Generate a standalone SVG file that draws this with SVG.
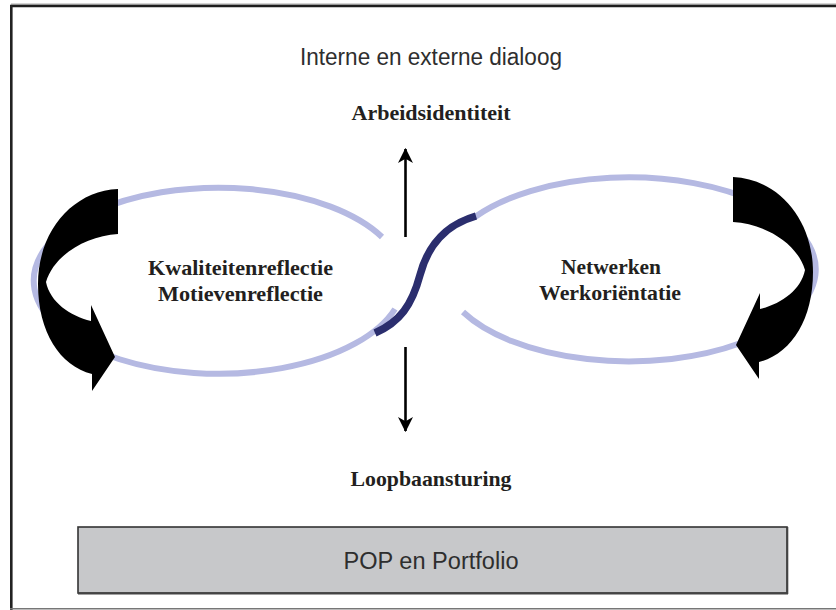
<svg xmlns="http://www.w3.org/2000/svg" xmlns:xlink="http://www.w3.org/1999/xlink" width="836" height="610" viewBox="0 0 836 610">
<style>
.reg{font-family:"Liberation Sans","Open Sans",sans-serif;font-size:23px;fill:#2e2e2e;text-anchor:middle}
.bold{font-family:"Liberation Serif","DejaVu Serif",serif;font-weight:bold;font-size:21px;fill:#231f20;text-anchor:middle}
.loop{fill:none;stroke:#b5b9e2;stroke-width:6}
.axis{fill:none;stroke:#000;stroke-width:2.6}
</style>
<defs>
<marker id="ah" viewBox="0 0 14 14" refX="13" refY="7" markerWidth="15" markerHeight="15" markerUnits="userSpaceOnUse" orient="auto">
<path d="M0,0 L14,7 L0,14 L4,7 Z" fill="#000"/>
</marker>
<path id="bigArrow" d="M118,189 L118,234 C86,236 54,255 46,282 C50,302 70,316 91,321 L91,305 L115,357 L92,391 L92,374 C60,366 38,332 38,284 C38,232 72,191 118,189 Z" fill="#000"/>
</defs>
<rect x="0" y="0" width="836" height="610" fill="#fff"/>
<g id="frame">
<line x1="11" y1="4.2" x2="836" y2="4.2" stroke="#aaa" stroke-width="1.2"/>
<line x1="10" y1="6" x2="836" y2="6" stroke="#1e1e1e" stroke-width="2.4"/>
<line x1="11.3" y1="5" x2="11.3" y2="610" stroke="#222" stroke-width="2.6"/>
<line x1="10" y1="608.8" x2="836" y2="608.8" stroke="#777" stroke-width="1.4"/>
</g>
<g id="title">
<text class="reg" x="431" y="65" textLength="262" lengthAdjust="spacingAndGlyphs">Interne en externe dialoog</text>
</g>
<g id="arbeidsidentiteit">
<text class="bold" x="431" y="120" textLength="159" lengthAdjust="spacingAndGlyphs">Arbeidsidentiteit</text>
</g>
<g id="loopbaansturing">
<text class="bold" x="431" y="486" textLength="161" lengthAdjust="spacingAndGlyphs">Loopbaansturing</text>
</g>
<g id="left-loop">
<path class="loop" d="M382,237 A185 93 0 1 0 395,309"/>
<use xlink:href="#bigArrow"/>
<text class="bold" x="240.5" y="275" textLength="185" lengthAdjust="spacingAndGlyphs">Kwaliteitenreflectie</text>
<text class="bold" x="240.5" y="301" textLength="165" lengthAdjust="spacingAndGlyphs">Motievenreflectie</text>
</g>
<g id="right-loop">
<path class="loop" d="M475,217 A187 92 0 1 1 463,312"/>
<use xlink:href="#bigArrow" transform="translate(851,-12) scale(-1,1)"/>
<text class="bold" x="611" y="274" textLength="100" lengthAdjust="spacingAndGlyphs">Netwerken</text>
<text class="bold" x="610" y="300" textLength="142" lengthAdjust="spacingAndGlyphs">Werkoriëntatie</text>
</g>
<g id="pop">
<rect x="78" y="527" width="709" height="66" fill="#c7c8ca" stroke="#333" stroke-width="1.6"/>
<line x1="78" y1="593.5" x2="788" y2="593.5" stroke="#444" stroke-width="2"/>
<line x1="787.5" y1="527" x2="787.5" y2="594" stroke="#444" stroke-width="1.6"/>
<text class="reg" x="431" y="569" textLength="175" lengthAdjust="spacingAndGlyphs">POP en Portfolio</text>
</g>
<g id="connectors">
<path d="M375,333 C400,322 412,305 420,275 C428,245 445,225 476,216" fill="none" stroke="#2b2e6e" stroke-width="7.5"/>
<line class="axis" x1="405.5" y1="237" x2="405.5" y2="149" marker-end="url(#ah)"/>
<line class="axis" x1="405.5" y1="347" x2="405.5" y2="431" marker-end="url(#ah)"/>
</g>
</svg>
